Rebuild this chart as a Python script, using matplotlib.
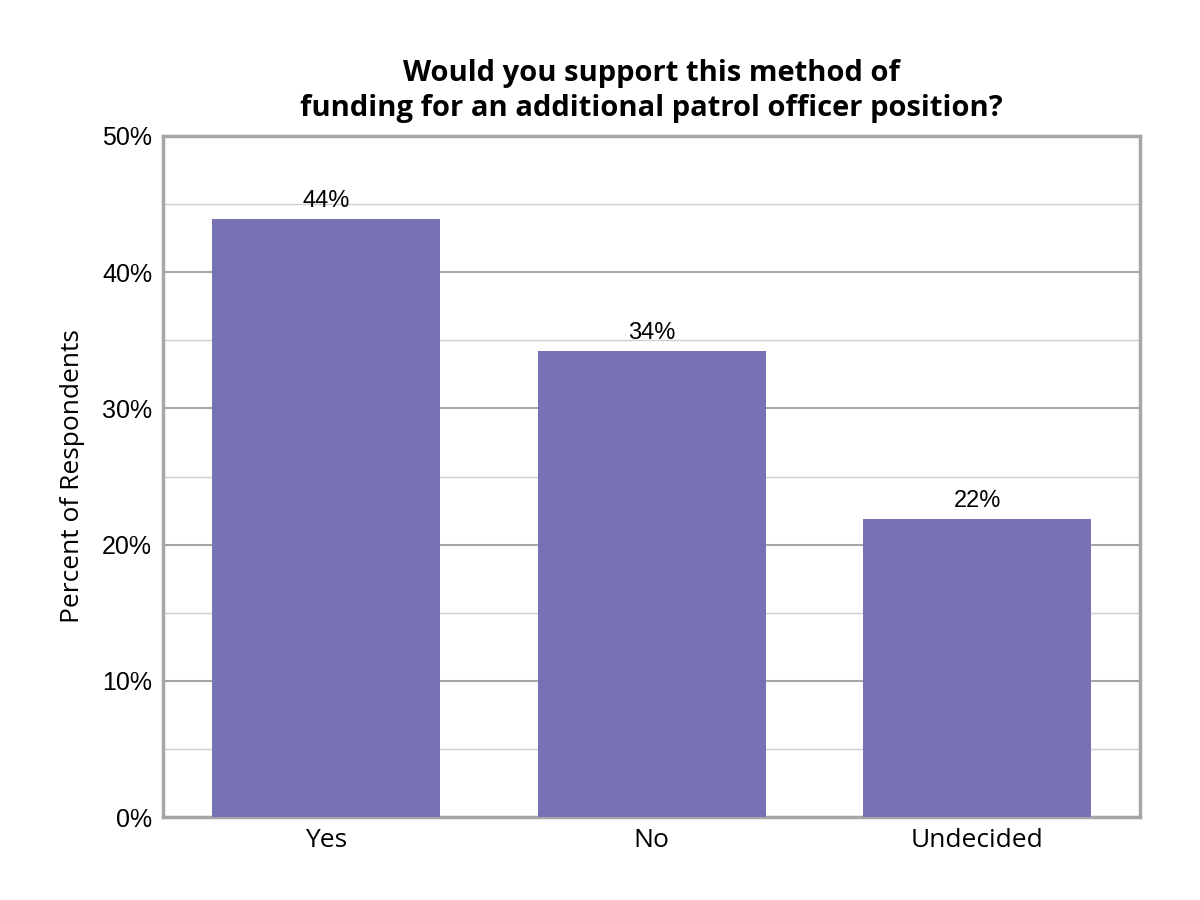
import matplotlib
matplotlib.use("Agg")
import matplotlib.pyplot as plt
from matplotlib.ticker import MultipleLocator, PercentFormatter

categories = ["Yes", "No", "Undecided"]
values = [43.9, 34.2, 21.9]
labels = ["44%", "34%", "22%"]

fig = plt.figure(figsize=(12, 9), dpi=100)
ax = fig.add_axes([0.136, 0.092, 0.814, 0.757])
x = range(len(categories))
ax.bar(x, values, width=0.7, color="#7672B3", zorder=3)
for i, (v, l) in enumerate(zip(values, labels)):
    ax.text(i, v + 0.5, l, ha="center", va="bottom", fontsize=17, family="Liberation Sans")
ax.set_xlim(-0.5, 2.5)
ax.set_ylim(0, 50)
ax.yaxis.set_major_locator(MultipleLocator(10))
ax.yaxis.set_minor_locator(MultipleLocator(5))
ax.yaxis.set_major_formatter(PercentFormatter(decimals=0))
ax.grid(axis="y", which="major", color="#A6A6A6", linewidth=1.5, zorder=0)
ax.grid(axis="y", which="minor", color="#CFCFCF", linewidth=1, zorder=0)
ax.set_xticks(list(x))
ax.set_xticklabels(categories, fontsize=19, family="Open Sans")
ax.tick_params(axis="x", length=0, pad=8)
ax.tick_params(axis="y", which="both", length=0, pad=8, labelsize=18)
for t in ax.get_yticklabels():
    t.set_family("Liberation Sans")
for s in ax.spines.values():
    s.set_color("#A6A6A6")
    s.set_linewidth(2.5)
ax.set_ylabel("Percent of Respondents", fontsize=19, family="Open Sans", labelpad=12)
ax.set_title("Would you support this method of\nfunding for an additional patrol officer position?",
             fontsize=21, fontweight="bold", family="Open Sans", pad=14, linespacing=1.3)
fig.savefig("out.png")
